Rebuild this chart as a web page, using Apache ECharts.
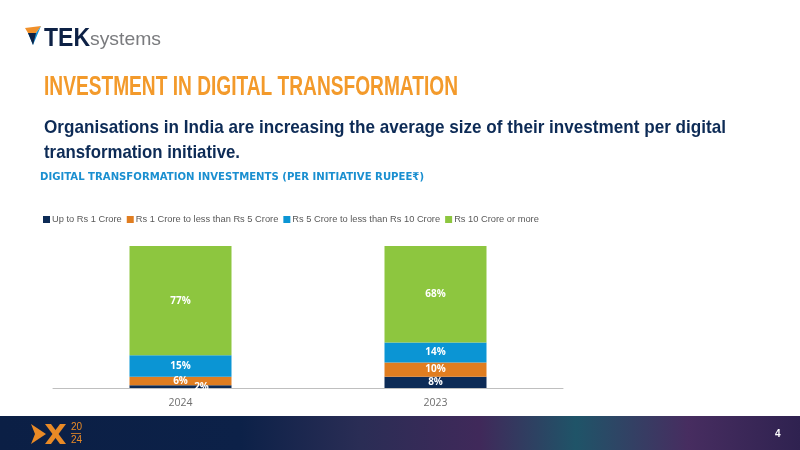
<!DOCTYPE html>
<html>
<head>
<meta charset="utf-8">
<script src="https://cdn.jsdelivr.net/npm/echarts@6/dist/echarts.min.js"></script>
<style>
  html, body { margin: 0; padding: 0; background: #fff; }
  #chart { width: 800px; height: 450px; }
</style>
</head>
<body>
<div id="chart"></div>
<script>
const years = ['2024', '2023']
const seriesNames = [
  'Up to Rs 1 Crore',
  'Rs 1 Crore to less than Rs 5 Crore',
  'Rs 5 Crore to less than Rs 10 Crore',
  'Rs 10 Crore or more',
]
const upTo1 = [2, 8]
const from1To5 = [6, 10]
const from5To10 = [15, 14]
const over10 = [77, 68]

const colors = ['#0d2b56', '#e07d20', '#0b95d4', '#8dc63f']

const chart = echarts.init(document.getElementById('chart'))

// the slide uses condensed fonts we don't have, so squeeze text to its width
const measureCtx = document.createElement('canvas').getContext('2d')
function fitText(text, font, left, top, width, fill) {
  measureCtx.font = font
  const w = measureCtx.measureText(text).width
  return {
    type: 'text',
    x: left,
    y: top,
    scaleX: width / w,
    style: { text, font, fill },
  }
}

const values = [upTo1, from1To5, from5To10, over10]
const series = seriesNames.map((name, i) => ({
  name,
  type: 'bar',
  stack: 'total',
  barWidth: 102,
  itemStyle: { color: colors[i] },
  label: {
    show: true,
    position: 'inside',
    color: '#fff',
    fontFamily: 'Open Sans',
    fontWeight: 'bold',
    fontSize: 10,
    formatter: '{c}%',
  },
  data: values[i].map((v) => {
    // the small 2% label sits off to the right in the original
    if (i === 0 && v < 4) return { value: v, label: { offset: [21, 1] } }
    return v
  }),
}))

const titleFont = 'bold 27px "Liberation Sans"'
const subFont = 'bold 19px "Liberation Sans"'
const orange = '#e98a26'

chart.setOption({
  animation: false,
  color: colors,
  grid: { left: 53, right: 237, top: 246, bottom: 62 },
  legend: {
    left: 38,
    top: 210,
    itemWidth: 7,
    itemHeight: 7,
    itemGap: 5,
    icon: 'rect',
    textStyle: { color: '#595959', fontSize: 9.3, fontFamily: 'Liberation Sans', padding: [0, 0, 0, -3] },
    data: seriesNames,
  },
  xAxis: {
    type: 'category',
    data: years,
    axisLine: { lineStyle: { color: '#bfbfbf', width: 1 } },
    axisTick: { show: false },
    axisLabel: { color: '#6f6f6f', fontSize: 10.5, fontFamily: 'Open Sans', margin: 10 },
  },
  yAxis: {
    type: 'value',
    min: 0,
    max: 100,
    show: false,
    splitLine: { show: false },
  },
  series,
  graphic: [
    // logo
    {
      type: 'polygon',
      shape: { points: [[25, 28], [41, 26], [36, 33], [28, 33]] },
      style: { fill: '#f0902a' },
    },
    {
      type: 'polygon',
      shape: { points: [[28, 33], [36, 33], [41, 26], [33, 45]] },
      style: { fill: '#1a8fd0' },
    },
    {
      type: 'polygon',
      shape: { points: [[28, 33], [36, 33], [33, 45]] },
      style: { fill: '#0d2145' },
    },
    fitText('TEK', 'bold 25px "Liberation Sans"', 44, 27, 46, '#0d2145'),
    fitText('systems', '19px "Liberation Sans"', 90, 30, 71, '#7a7b7e'),
    // headings
    fitText('INVESTMENT IN DIGITAL TRANSFORMATION', titleFont, 44, 74, 414, '#f39a2b'),
    fitText('Organisations in India are increasing the average size of their investment per digital',
      subFont, 44, 118, 682, '#0d2b56'),
    fitText('transformation initiative.', subFont, 44, 143, 196, '#0d2b56'),
    fitText('DIGITAL TRANSFORMATION INVESTMENTS (PER INITIATIVE RUPEE₹)',
      'bold 10.5px "DejaVu Sans"', 40, 172, 384, '#1a8fd0'),
    // footer band
    {
      type: 'rect',
      shape: { x: 0, y: 416, width: 800, height: 34 },
      style: {
        fill: new echarts.graphic.LinearGradient(0, 0, 1, 0, [
          { offset: 0, color: '#0b1f45' },
          { offset: 0.3, color: '#0c2148' },
          { offset: 0.45, color: '#2a2d55' },
          { offset: 0.6, color: '#40295a' },
          { offset: 0.72, color: '#1f5468' },
          { offset: 0.86, color: '#472d60' },
          { offset: 1, color: '#2f2250' },
        ]),
      },
    },
    {
      type: 'polygon',
      shape: { points: [[31, 424], [46, 434], [31, 444], [35, 434]] },
      style: { fill: orange },
    },
    {
      type: 'polygon',
      shape: { points: [[45, 424], [51, 424], [66, 444], [60, 444]] },
      style: { fill: orange },
    },
    {
      type: 'polygon',
      shape: { points: [[60, 424], [66, 424], [51, 444], [45, 444]] },
      style: { fill: orange },
    },
    {
      type: 'text',
      x: 71,
      y: 421,
      style: { text: '20\n24', font: '10px "Liberation Sans"', lineHeight: 13, fill: orange },
    },
    {
      type: 'line',
      shape: { x1: 71, y1: 433.5, x2: 81, y2: 433.5 },
      style: { stroke: orange, lineWidth: 0.8 },
    },
    {
      type: 'text',
      x: 775,
      y: 429,
      style: { text: '4', font: 'bold 10px "Liberation Sans"', fill: '#fff' },
    },
  ],
})
</script>
</body>
</html>
